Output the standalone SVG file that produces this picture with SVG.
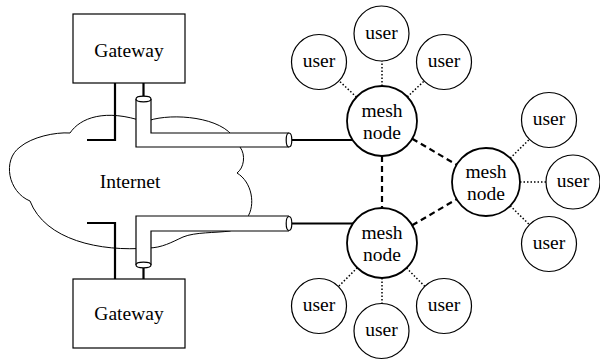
<svg xmlns="http://www.w3.org/2000/svg" width="600" height="360" viewBox="0 0 600 360">
<style>
text{font-family:"Liberation Serif","Times New Roman",serif;font-size:19.5px;fill:#000;text-anchor:middle}
.box{fill:#fff;stroke:#000;stroke-width:1.2}
.user{fill:#fff;stroke:#000;stroke-width:1.2}
.mesh{fill:#fff;stroke:#000;stroke-width:1.8}
.thick{fill:none;stroke:#000;stroke-width:2.2}
.pipe{fill:none;stroke:#000;stroke-width:1.2}
.dash{fill:none;stroke:#000;stroke-width:2.2;stroke-dasharray:6 4}
.dot{fill:none;stroke:#000;stroke-width:1.5;stroke-dasharray:1.5 2}
</style>
<g id="internet">
<path d="M30,201 C8,192 2,160 20,147 C32,137 55,132 70,133 C80,118 105,108 145,122 C165,113 215,115 232,135 C238,140 240,144 240,147 C246,155 244,168 237,173 C252,182 256,205 247,218 C240,228 232,230 230,231 C215,233 195,232 183,237 C172,242 162,248 148,248 C100,252 45,240 30,201 Z" fill="#fff" stroke="#000" stroke-width="1"/>
<text x="130" y="188">Internet</text>
</g>
<g id="connectors">
<path class="thick" d="M115,83 V140 H87"/>
<path class="thick" d="M115,279 V223 H87"/>
<path class="thick" d="M143.5,83 V97"/>
<path class="thick" d="M143.5,268 V279"/>
<path class="thick" d="M292,140 H352.6"/>
<path class="thick" d="M292,223.5 H353"/>
<g id="pipe-top">
<path d="M136,99 H151 V133 H289 V147 H136 Z" fill="#fff"/>
<path class="pipe" d="M136,99 V147 H289 M151,99 V133 H289"/>
<ellipse cx="143.5" cy="99" rx="7.5" ry="2.8" fill="#fff" stroke="#000" stroke-width="1.2"/>
<ellipse cx="289" cy="140" rx="2.8" ry="7" fill="#fff" stroke="#000" stroke-width="1.2"/>
</g>
<g id="pipe-bottom">
<path d="M136,265 H151 V231 H289 V216 H136 Z" fill="#fff"/>
<path class="pipe" d="M136,265 V216 H289 M151,265 V231 H289"/>
<ellipse cx="143.5" cy="265" rx="7.5" ry="2.8" fill="#fff" stroke="#000" stroke-width="1.2"/>
<ellipse cx="289" cy="223.5" rx="2.8" ry="7" fill="#fff" stroke="#000" stroke-width="1.2"/>
</g>
<path class="dash" d="M382,156 V208"/>
<path class="dash" d="M412.2,138.7 L456.7,164.8"/>
<path class="dash" d="M412.2,225.3 L456.7,199.2"/>
<path class="dot" d="M356.5,97.1 L338.7,80.5"/>
<path class="dot" d="M382,86 V61"/>
<path class="dot" d="M407.3,96.9 L424.5,80.6"/>
<path class="dot" d="M510.2,158.2 L529.8,138.9"/>
<path class="dot" d="M520,182 H546"/>
<path class="dot" d="M510.2,205.8 L529.8,225.1"/>
<path class="dot" d="M357.3,267.7 L338.1,286.9"/>
<path class="dot" d="M382,278 V305"/>
<path class="dot" d="M406.5,268 L425.1,286.7"/>
</g>
<g id="gateway-top"><rect class="box" x="73" y="14" width="112" height="69"/><text x="129" y="57">Gateway</text></g>
<g id="gateway-bottom"><rect class="box" x="73" y="279" width="112" height="69"/><text x="129" y="320">Gateway</text></g>
<g id="mesh-a"><circle class="mesh" cx="382" cy="121" r="35"/><text x="382" y="117">mesh</text><text x="382" y="139">node</text></g>
<g id="mesh-b"><circle class="mesh" cx="382" cy="243" r="35"/><text x="382" y="239">mesh</text><text x="382" y="261">node</text></g>
<g id="mesh-c"><circle class="mesh" cx="486" cy="182" r="34"/><text x="486" y="178">mesh</text><text x="486" y="200">node</text></g>
<g id="user-a1"><circle class="user" cx="319" cy="62" r="27.5"/><text x="319" y="67">user</text></g>
<g id="user-a2"><circle class="user" cx="381.5" cy="33.5" r="27.5"/><text x="381.5" y="38.5">user</text></g>
<g id="user-a3"><circle class="user" cx="444" cy="62" r="27.5"/><text x="444" y="67">user</text></g>
<g id="user-c1"><circle class="user" cx="549" cy="120" r="27.5"/><text x="549" y="125">user</text></g>
<g id="user-c2"><circle class="user" cx="573" cy="182" r="27"/><text x="573" y="187">user</text></g>
<g id="user-c3"><circle class="user" cx="549" cy="244" r="27.5"/><text x="549" y="249">user</text></g>
<g id="user-b1"><circle class="user" cx="319" cy="306" r="27.5"/><text x="319" y="311">user</text></g>
<g id="user-b2"><circle class="user" cx="381.5" cy="331" r="27.5"/><text x="381.5" y="336">user</text></g>
<g id="user-b3"><circle class="user" cx="444" cy="306" r="27.5"/><text x="444" y="311">user</text></g>
</svg>
